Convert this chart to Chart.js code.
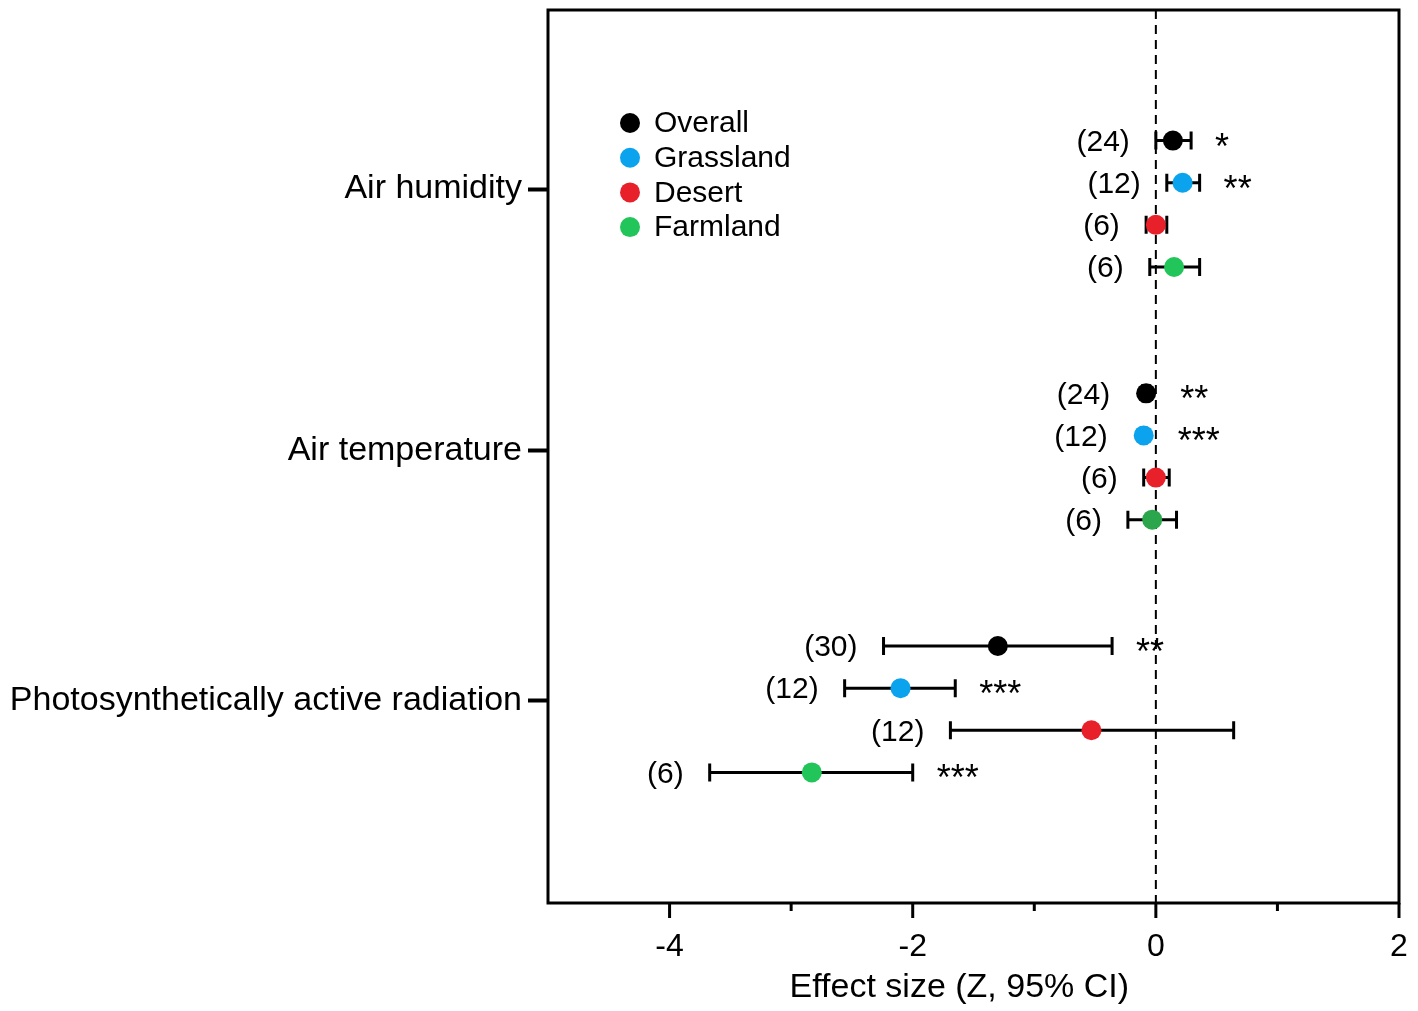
<!DOCTYPE html>
<html><head><meta charset="utf-8">
<script src="https://cdn.jsdelivr.net/npm/chart.js@4"></script>
<style>html,body{margin:0;padding:0;background:#fff}#wrap{width:1418px;height:1011px;position:relative}</style>
</head><body><div id="wrap"><canvas id="c"></canvas></div>
<script>
const categories = ['Air humidity', 'Air temperature', 'Photosynthetically active radiation'];
const categoryPos = [4.15, 10.35, 16.3];
const groups = ['Overall', 'Grassland', 'Desert', 'Farmland'];
const groupColors = ['#000000', '#0ba3ee', '#e8202a', '#22c55a'];
const rowPos = [[3, 4, 5, 6], [9, 10, 11, 12], [15, 16, 17, 18]];
const effect = [[0.14, 0.22, 0.00, 0.15], [-0.08, -0.10, 0.00, -0.03], [-1.30, -2.10, -0.53, -2.83]];
const lower  = [[0.00, 0.09, -0.08, -0.05], [-0.11, -0.12, -0.10, -0.23], [-2.24, -2.56, -1.69, -3.67]];
const upper  = [[0.29, 0.36, 0.09, 0.36], [-0.05, -0.08, 0.11, 0.17], [-0.36, -1.65, 0.64, -2.00]];
const nStudies = [['(24)', '(12)', '(6)', '(6)'], ['(24)', '(12)', '(6)', '(6)'], ['(30)', '(12)', '(12)', '(6)']];
const signif = [['*', '**', '', ''], ['**', '***', '', ''], ['**', '***', '', '***']];
const xMin = -5, xMax = 2;
const xLabelValues = [-4, -2, 0, 2];
const xAxisTitle = 'Effect size (Z, 95% CI)';

const FONT = '"Liberation Sans", Arial, sans-serif';

const datasets = groups.map((g, gi) => ({
  label: g,
  data: categories.map((c, ci) => ({ x: effect[ci][gi], y: rowPos[ci][gi], ci: ci, gi: gi })),
  backgroundColor: (ctx) => {
    const d = ctx.raw;
    if (d && d.ci === 1 && d.gi === 3) return '#2ca64c';
    return groupColors[gi];
  },
  borderWidth: 0,
  pointRadius: 10,
  pointHoverRadius: 10
}));

function zeroPad(scale) {
  scale.paddingLeft = 0; scale.paddingRight = 0;
  scale.paddingTop = 0; scale.paddingBottom = 0;
}

const forestPlugin = {
  id: 'forest',
  beforeDatasetsDraw(chart) {
    const { ctx, chartArea, scales: { x, y } } = chart;
    ctx.save();
    ctx.strokeStyle = '#000';
    ctx.lineWidth = 2;
    ctx.setLineDash([9, 6]);
    const x0 = x.getPixelForValue(0);
    ctx.beginPath();
    ctx.moveTo(x0, chartArea.top);
    ctx.lineTo(x0, chartArea.bottom);
    ctx.stroke();
    ctx.setLineDash([]);
    ctx.lineWidth = 3;
    categories.forEach((c, ci) => {
      groups.forEach((g, gi) => {
        const yp = y.getPixelForValue(rowPos[ci][gi]);
        const xl = x.getPixelForValue(lower[ci][gi]);
        const xh = x.getPixelForValue(upper[ci][gi]);
        ctx.beginPath();
        ctx.moveTo(xl, yp); ctx.lineTo(xh, yp);
        ctx.moveTo(xl, yp - 9); ctx.lineTo(xl, yp + 9);
        ctx.moveTo(xh, yp - 9); ctx.lineTo(xh, yp + 9);
        ctx.stroke();
      });
    });
    ctx.restore();
  },
  afterDatasetsDraw(chart) {
    const { ctx, chartArea, scales: { x, y } } = chart;
    ctx.save();
    ctx.fillStyle = '#000';
    categories.forEach((c, ci) => {
      groups.forEach((g, gi) => {
        const yp = y.getPixelForValue(rowPos[ci][gi]);
        const xe = x.getPixelForValue(effect[ci][gi]);
        const left = Math.min(x.getPixelForValue(lower[ci][gi]), xe - 10);
        const right = Math.max(x.getPixelForValue(upper[ci][gi]), xe + 10);
        ctx.font = '30px ' + FONT;
        ctx.textAlign = 'right';
        ctx.textBaseline = 'middle';
        ctx.fillText(nStudies[ci][gi], left - 26, yp + 2);
        if (signif[ci][gi]) {
          ctx.font = '36px ' + FONT;
          ctx.textAlign = 'left';
          ctx.fillText(signif[ci][gi], right + 24, yp + 8);
        }
      });
    });
    groups.forEach((g, gi) => {
      const ly = chartArea.top + 113 + gi * 34.7;
      const lx = chartArea.left + 82;
      ctx.fillStyle = groupColors[gi];
      ctx.beginPath();
      ctx.arc(lx, ly, 10, 0, Math.PI * 2);
      ctx.fill();
      ctx.fillStyle = '#000';
      ctx.font = '30px ' + FONT;
      ctx.textAlign = 'left';
      ctx.textBaseline = 'middle';
      ctx.fillText(g, lx + 24, ly + 1);
    });
    ctx.restore();
  },
  afterDraw(chart) {
    const { ctx, chartArea, scales: { x } } = chart;
    ctx.save();
    ctx.strokeStyle = '#000';
    ctx.lineWidth = 3;
    ctx.strokeRect(chartArea.left, chartArea.top, chartArea.right - chartArea.left, chartArea.bottom - chartArea.top);
    x.ticks.forEach(t => {
      if (t.value === xMin) return;
      const xp = x.getPixelForValue(t.value);
      const len = xLabelValues.includes(t.value) ? 15 : 8;
      ctx.beginPath();
      ctx.moveTo(xp, chartArea.bottom);
      ctx.lineTo(xp, chartArea.bottom + len);
      ctx.stroke();
    });
    ctx.restore();
  }
};

new Chart(document.getElementById('c'), {
  type: 'scatter',
  data: { datasets },
  options: {
    responsive: true,
    maintainAspectRatio: false,
    animation: false,
    layout: { padding: { top: 8, right: 19, left: 0, bottom: 0 } },
    plugins: { legend: { display: false }, tooltip: { enabled: false } },
    scales: {
      x: {
        type: 'linear', min: xMin, max: xMax,
        afterFit(scale) { scale.height = 108; zeroPad(scale); },
        ticks: {
          stepSize: 1,
          color: '#000',
          font: { family: FONT, size: 32 },
          padding: 17,
          maxRotation: 0,
          autoSkip: false,
          callback: (v) => xLabelValues.includes(v) ? String(v) : ''
        },
        grid: { display: false },
        border: { display: false },
        title: {
          display: true, text: xAxisTitle + '   ', color: '#000',
          font: { family: FONT, size: 34, lineHeight: 1.2 },
          padding: { top: 0, bottom: 3 }
        }
      },
      y: {
        type: 'linear', min: -0.1, max: 21.1, reverse: true,
        afterFit(scale) { scale.width = 548; zeroPad(scale); },
        afterBuildTicks(scale) { scale.ticks = categoryPos.map(v => ({ value: v })); },
        ticks: {
          color: '#000',
          font: { family: FONT, size: 34 },
          padding: 6,
          autoSkip: false,
          callback: (v, i) => categories[i]
        },
        grid: { display: true, drawOnChartArea: false, drawTicks: true, tickLength: 20, tickWidth: 4, tickColor: '#000', color: '#000' },
        border: { display: false }
      }
    }
  },
  plugins: [forestPlugin]
});
</script>
</body></html>
